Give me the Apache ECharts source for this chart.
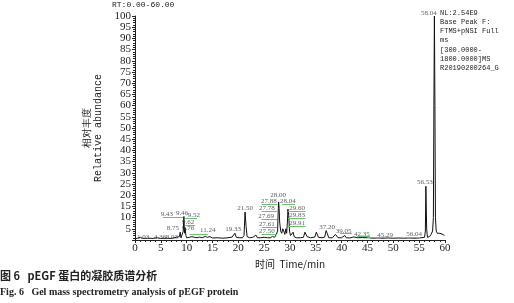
<!DOCTYPE html>
<html><head><meta charset="utf-8">
<script src="https://cdn.jsdelivr.net/npm/echarts@6/dist/echarts.min.js"></script>
<style>html,body{margin:0;padding:0;background:#fff}#c{width:514px;height:303px}</style>
</head><body><div id="c"></div>
<script>
// retention time (min) and relative abundance trace
const rt = [0.0,0.5,1.03,1.5,2.5,3.5,4.36,5.0,6.0,7.0,8.03,8.4,8.6,8.75,8.9,9.2,9.35,9.46,9.55,9.62,9.7,9.76,9.85,10.0,10.5,11.0,11.24,11.5,12.0,12.5,13.0,13.6,14.0,14.5,15.0,16.0,17.0,18.0,18.8,19.33,19.6,20.2,20.8,21.1,21.3,21.5,21.7,22.2,22.8,23.4,23.7,24.3,25.0,25.3,25.6,26.2,26.6,27.0,27.3,27.5,27.6,27.7,27.8,27.9,28.0,28.2,28.4,28.6,28.8,29.0,29.2,29.35,29.5,29.6,29.75,29.9,30.1,30.4,30.6,30.8,31.2,32.0,32.6,32.9,33.1,33.3,34.0,34.8,35.1,35.3,35.5,36.2,36.7,37.0,37.2,37.5,38.2,38.8,39.05,39.3,40.0,40.6,40.9,41.6,42.35,43.0,44.0,45.29,46.0,47.0,48.0,49.0,50.0,51.0,52.0,53.0,54.0,55.0,56.04,56.2,56.3,56.45,56.6,57.0,57.3,57.6,57.75,57.85,57.95,58.05,58.15,58.3,58.5,58.8,59.0,59.3,59.6,59.9];
const abundance = [0.5,0.8,1.2,0.7,0.8,0.7,1.0,0.7,0.8,0.7,1.2,0.8,1.5,3.5,0.9,1.0,4,10.5,5,3,5.5,6,2,1.0,1.2,1.5,2.2,1.2,1.0,1.3,1.0,1.6,1.2,1.5,0.9,1.0,0.8,1.0,1.3,3.0,1.2,1.0,1.0,2,12.5,6,1.5,1.0,1.2,2.2,1.0,1.0,1.2,2.0,1.0,1.0,1.6,1.2,2.2,1.5,4,12,17,14,8,4,3,5,4,2.5,5,3,8,13.8,11,4,2,1.5,3.5,1.5,1.0,1.0,1.2,3.5,4,1.5,1.0,1.3,3.5,3,1.2,1.0,1.3,4.2,3,1.0,1.0,2.5,2,1.0,1.0,2.0,1.0,0.9,1.4,1.0,1.1,1.0,0.8,0.9,0.8,0.9,0.8,0.9,0.8,0.9,0.8,0.9,1.2,4,24,5,1.2,1.5,2.5,4,10,60,100,60,10,4,3,2.5,3,2.2,2.5,2.0];
// peak annotations: text, label anchor (rt, abundance)
const peakText = ['1.03','4.36','8.03','8.75','9.43','9.46','9.52','9.62','9.76','11.24','19.33','21.50','27.50','27.61','27.69','27.78','27.88','28.00','28.04','29.60','29.83','29.91','37.20','39.05','42.35','45.29','56.04','56.53','58.04'];
const peakLabelX = [1.55,4.84,7.16,7.35,6.19,9.1,11.4,10.3,10.3,14.1,19.0,21.3,25.5,25.5,25.4,25.5,25.9,27.7,29.6,31.4,31.4,31.4,37.2,40.4,43.9,48.4,54.0,56.1,56.9];
const peakLabelY = [1.3,1.3,1.3,5.4,11.6,12.0,11.2,8.0,5.4,4.5,4.9,14.3,4.0,7.1,10.7,14.3,17.4,20.1,17.4,14.3,11.2,7.6,5.8,4.0,2.7,2.2,2.7,25.9,101.3];
// green leader segments: [rtStart, rtEnd, abundance]
const leaderStart = [5.4,9.7,9.7,10.6,24.5,24.5,24.5,24.5,24.5,28.5,29.6,29.6,29.6,39.7,43.0,45.0,52.6];
const leaderEnd   = [9.3,12.0,11.6,14.1,27.5,27.5,27.5,27.5,27.6,31.0,33.0,33.0,33.0,42.0,45.5,48.4,55.2];
const leaderY     = [10.3,9.8,6.7,2.7,2.6,5.7,9.3,12.9,16.0,16.0,12.9,9.8,6.2,3.1,1.8,1.3,1.3];
const yTicks = [0,5,10,15,20,25,30,35,40,45,50,55,60,65,70,75,80,85,90,95,100];
const xTicks = [0,5,10,15,20,25,30,35,40,45,50,55,60];

const chart = echarts.init(document.getElementById('c'));
const serif = 'Liberation Serif';
const mono = 'Liberation Mono';
chart.setOption({
  animation:false,
  grid:{left:135,right:69,top:16,bottom:63},
  xAxis:{type:'value',min:xTicks[0],max:xTicks[xTicks.length-1],interval:5,
    name:'时间  Time/min',nameLocation:'middle',nameGap:17,
    nameTextStyle:{color:'#222',fontSize:10,fontFamily:'Noto Sans CJK SC'},
    axisLine:{lineStyle:{color:'#222',width:1}},
    axisTick:{length:3,lineStyle:{color:'#222'}},
    minorTick:{show:true,splitNumber:5,length:2,lineStyle:{color:'#222'}},
    axisLabel:{color:'#222',fontSize:11,fontFamily:serif,margin:3},
    splitLine:{show:false}},
  yAxis:{type:'value',min:yTicks[0],max:yTicks[yTicks.length-1],interval:5,
    name:'相对丰度\nRelative abundance',nameLocation:'middle',nameGap:26,nameRotate:90,
    nameTextStyle:{color:'#222',fontSize:10,fontFamily:'Liberation Mono',lineHeight:11},
    axisLine:{show:true,lineStyle:{color:'#222',width:1}},
    axisTick:{length:3,lineStyle:{color:'#222'}},
    minorTick:{show:true,splitNumber:5,length:2,lineStyle:{color:'#222'}},
    axisLabel:{color:'#222',fontSize:11,fontFamily:serif,margin:4,showMinLabel:false},
    splitLine:{show:false}},
  series:[
    {type:'line',data:rt.map((t,i)=>[t,abundance[i]]),symbol:'none',
     lineStyle:{color:'#111',width:1},z:3},
    {type:'scatter',symbolSize:0,clip:false,
     data:peakLabelX.map((x,i)=>[x,peakLabelY[i],peakText[i]]),
     label:{show:true,position:'inside',formatter:p=>p.value[2],color:'#333',fontSize:7,fontFamily:serif},
     z:4},
    {type:'scatter',symbolSize:0,data:[],
     markLine:{silent:true,symbol:'none',animation:false,label:{show:false},
       lineStyle:{color:'#6cc26c',width:1,type:'solid'},
       data:leaderStart.map((s,i)=>[{coord:[s,leaderY[i]]},{coord:[leaderEnd[i],leaderY[i]]}])}}
  ],
  graphic:[
    {type:'text',left:112,top:1,style:{text:'RT:0.00-60.00',font:'8px '+mono,fill:'#222'}},
    {type:'text',left:440,top:8,style:{text:'NL:2.54E9\nBase Peak F:\nFTMS+pNSI Full\nms\n[300.0000-\n1800.0000]MS\nR20190200264_G',font:'7px '+mono,lineHeight:9.3,fill:'#222'}},
    {type:'text',left:0,top:270,style:{text:'图 6   pEGF 蛋白的凝胶质谱分析',font:'bold 11px "Noto Sans CJK SC"',fill:'#222'}},
    {type:'text',left:0,top:287,style:{text:'Fig. 6   Gel mass spectrometry analysis of pEGF protein',font:'bold 10px '+serif,fill:'#222'}}
  ]
});
</script></body></html>
